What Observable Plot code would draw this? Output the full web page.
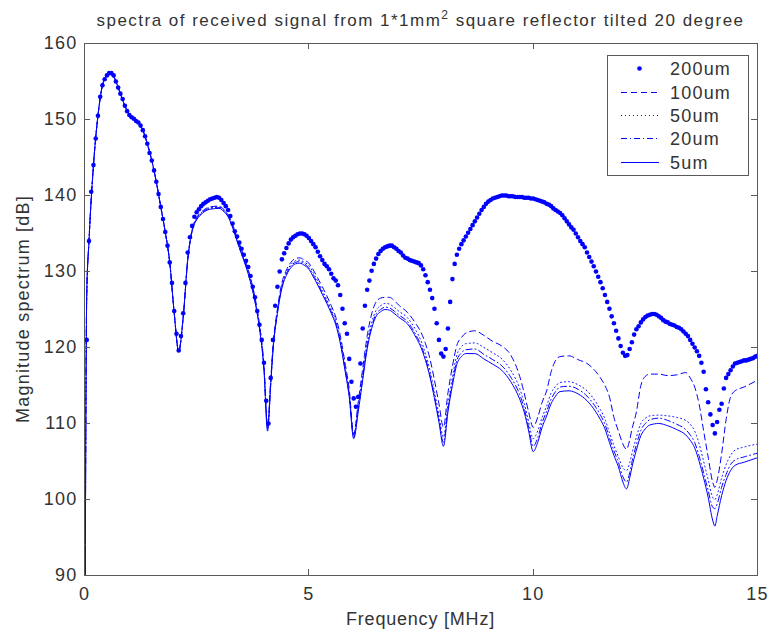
<!DOCTYPE html>
<html><head><meta charset="utf-8">
<script src="https://cdn.jsdelivr.net/npm/d3@7"></script>
<script src="https://cdn.jsdelivr.net/npm/@observablehq/plot@0.6"></script>
<style>html,body{margin:0;padding:0;background:#fff;}</style>
</head><body><div id="chart"></div>
<script>
// ---------- data ----------
const titleText = ["spectra of received signal from 1*1mm", "2", " square reflector tilted 20 degree"];
const xLabel = "Frequency [MHz]";
const yLabel = "Magnitude spectrum [dB]";
const seriesNames = ["200um", "100um", "50um", "20um", "5um"];
const xTicks = [0, 5, 10, 15];
const yTicks = [90, 100, 110, 120, 130, 140, 150, 160];

// 200um: sampled every 0.05 MHz from 0 to 15 MHz
const step200 = 0.05;
const mag200 = [
  85,121,134,140.5,144,147.5,150.5,153,154.5,155.3,155.8,156.1,156.1,155.8,155,154.2,153.4,152.7,151.8,151.1,
  150.6,150.3,150.1,149.8,149.6,149.2,148.6,147.8,146.8,145.6,144.6,143.3,141.8,140.2,138.5,136.9,135.2,133.4,131.2,128.5,
  124.8,121.8,119.6,121.5,124.5,128.5,132.5,134.5,136,137.2,137.8,138.2,138.6,138.9,139.1,139.3,139.5,139.6,139.7,139.8,
  139.7,139.4,139,138.6,138.1,137.3,136.3,135.3,134.6,133.8,133,132.2,131.4,130.6,129.4,128,126.6,124.8,123,121,
  118,113,110,116,121,125.5,128,130,131.6,132.4,133.1,133.7,134.2,134.5,134.7,134.9,135.0,135.0,134.9,134.7,
  134.4,134,133.6,133.2,132.6,132,131.5,131,130.7,130.3,129.7,129.1,128.8,128.2,126.9,125.1,123.2,121.8,118.5,115.5,
  113.3,112.2,113.5,117.9,122.5,125.5,127.6,128.8,130.1,131.0,131.7,132.3,132.7,133.0,133.2,133.3,133.4,133.4,133.2,133.0,
  132.7,132.5,132.1,131.8,131.7,131.5,131.4,131.3,131.2,131.1,130.8,130.3,129.5,128.6,127.6,126.5,125.1,123.2,121,119.2,
  118.8,119.8,122.5,126,129,131,132.2,133,133.6,134.1,134.6,135.1,135.6,136.1,136.6,137.1,137.6,138.1,138.5,138.9,
  139.2,139.4,139.6,139.7,139.8,139.9,140.0,140.0,140.0,139.9,139.9,139.9,139.8,139.8,139.8,139.8,139.7,139.7,139.7,139.6,
  139.6,139.5,139.4,139.3,139.2,139.1,138.9,138.8,138.6,138.3,138.1,137.9,137.7,137.4,137.0,136.6,136.2,135.8,135.5,135.0,
  134.5,134.0,133.6,133.2,132.5,131.9,131.3,130.7,130.0,129.3,128.6,127.8,126.9,126.0,125.1,124.1,123.2,122.2,121.2,120.2,
  119.3,118.9,119.0,119.8,120.7,121.7,122.4,122.8,123.3,123.7,124.0,124.2,124.3,124.4,124.4,124.3,124.1,123.9,123.6,123.4,
  123.3,123.1,123.0,122.9,122.7,122.6,122.4,122.1,121.8,121.5,121.0,120.5,120.0,119.5,118.9,118.0,116.8,114.5,112.8,111.2,
  109.8,108.7,110.2,111.8,112.6,114.6,116.0,116.5,117.0,117.5,117.9,118.0,118.1,118.2,118.3,118.3,118.4,118.5,118.6,118.8,
  118.9
];

// line series share these frequencies (MHz)
const freqLine = [
  0,0.05,0.1,0.2,0.3,0.4,0.5,0.6,0.7,0.8,
  0.9,1.0,1.1,1.2,1.3,1.4,1.5,1.6,1.7,1.8,
  1.9,2.0,2.1,2.2,2.3,2.4,2.5,2.6,2.8,3.0,
  3.1,3.2,3.3,3.4,3.5,3.6,3.7,3.8,3.9,4.0,
  4.08,4.15,4.2,4.3,4.4,4.5,4.6,4.7,4.8,4.9,
  5.0,5.1,5.2,5.3,5.4,5.5,5.6,5.7,5.8,5.9,
  6.0,6.1,6.2,6.3,6.4,6.5,6.6,6.7,6.8,6.9,
  7.0,7.2,7.4,7.5,7.6,7.7,7.8,7.9,8.0,8.1,
  8.2,8.3,8.4,8.5,8.7,8.9,9.1,9.3,9.5,9.7,
  9.8,9.9,10.0,10.1,10.2,10.3,10.4,10.5,10.6,10.8,
  11.0,11.2,11.4,11.5,11.6,11.7,11.8,11.9,12.0,12.08,
  12.15,12.2,12.3,12.4,12.5,12.6,12.8,13.0,13.2,13.4,
  13.5,13.6,13.7,13.8,13.9,14.0,14.05,14.1,14.2,14.3,
  14.4,14.5,14.7,15.0
];

const mag100 = [
  60,127,134,144,150.5,154.5,155.8,156.1,155,153.4,
  151.8,150.6,150.1,149.6,148.6,146.8,144.6,141.8,138.5,135.2,
  131.2,124.5,119.5,124,131.5,135.6,137.1,137.8,138.5,138.6,
  138.2,137.5,136.2,134.5,132.9,131.2,129.2,126.6,123.1,117.7,
  109.8,115.7,120.1,125.1,128.5,130.2,131.2,131.7,131.8,131.5,
  131.1,130.2,129.1,128.0,126.8,125.5,124.0,121.6,118.2,114.5,
  108.6,112.8,117.2,121.5,124.4,126,126.5,126.6,126.6,126.2,
  125.6,124.6,123.0,122.0,120.5,118.5,115.7,112.6,109.5,114,
  117.5,120.3,121.3,121.9,122.2,121.6,120.8,120.2,119.0,116.2,
  114.0,111.5,109.5,110.8,112.8,114.3,116.8,118.3,118.8,118.9,
  118.4,117.9,116.8,116.0,115.0,113.5,110.8,109.0,107.3,106.6,
  107.8,109.2,111.5,115.0,116.2,116.5,116.5,116.3,116.4,116.7,
  116.0,114.8,112.5,109.0,105.6,102.3,101.6,102.5,106.0,110.5,
  113.5,114.3,114.8,115.7
];

const mag50 = [
  60,127,134,144,150.5,154.5,155.8,156.1,155,153.4,
  151.8,150.6,150.1,149.6,148.6,146.8,144.6,141.8,138.5,135.2,
  131.2,124.5,119.5,124,131.5,135.5,137,137.7,138.4,138.5,
  138.1,137.4,136,134.3,132.6,130.9,128.9,126.3,122.8,117.4,
  109.5,115.4,119.8,124.8,128.2,129.9,130.9,131.4,131.5,131.2,
  130.8,129.8,128.7,127.5,126.3,125,123.5,121.1,117.7,114,
  108.4,112.2,116.4,120.6,123.3,124.9,125.5,125.8,125.7,125.3,
  124.8,123.9,122.1,120.9,119.2,117,114.2,111.1,108.2,112.5,
  116.1,119.0,120.1,120.5,120.6,120.0,119.3,118.5,117.0,114.6,
  112.7,110.2,108.0,109.0,110.8,112.3,114.0,114.9,115.4,115.5,
  115.1,114.3,112.8,111.8,110.6,108.8,107.1,105.6,104.2,103.8,
  104.8,106.0,108.2,110.0,110.7,111.0,111.1,111.0,110.8,110.4,
  109.9,109.0,107.3,105.0,102.6,100.3,100.0,100.6,102.8,104.6,
  105.8,106.5,106.9,107.3
];

const mag20 = [
  60,127,134,144,150.5,154.5,155.8,156.1,155,153.4,
  151.8,150.6,150.1,149.6,148.6,146.8,144.6,141.8,138.5,135.2,
  131.2,124.5,119.5,124,131.5,135.4,136.9,137.6,138.3,138.4,
  138.0,137.3,135.9,134.1,132.4,130.7,128.7,126.1,122.6,117.2,
  109.3,115.2,119.6,124.6,128,129.7,130.7,131.2,131.3,131.0,
  130.5,129.5,128.4,127.2,126,124.7,123.2,120.8,117.4,113.7,
  108.2,111.8,116,120.1,122.8,124.4,125.0,125.3,125.2,124.8,
  124.3,123.4,121.5,120.3,118.6,116.4,113.6,110.5,107.5,111.9,
  115.4,118.3,119.3,119.7,119.8,119.1,118.4,117.6,116.1,113.8,
  112.0,109.5,107.0,108.1,110.1,111.6,113.2,114.2,114.8,114.9,
  114.5,113.6,112.1,111.1,109.9,108.1,106.4,104.9,103.0,102.3,
  103.5,104.9,107.2,109.1,110.0,110.5,110.7,110.4,109.9,109.2,
  108.5,107.5,105.7,103.5,101.2,99.0,98.8,99.4,101.6,103.3,
  104.6,105.2,105.6,106.1
];

const mag5 = [
  60,127,134,144,150.5,154.5,155.8,156.1,155,153.4,
  151.8,150.6,150.1,149.6,148.6,146.8,144.6,141.8,138.5,135.2,
  131.2,124.5,119.5,124,131.5,135.3,136.8,137.5,138.2,138.3,
  137.9,137.2,135.8,134.0,132.3,130.6,128.6,126,122.5,117,
  109,115,119.5,124.5,127.8,129.5,130.5,131,131.1,130.8,
  130.3,129.3,128.2,127.0,125.8,124.5,123,120.6,117.2,113.5,
  108,111.5,115.7,119.8,122.5,124.1,124.7,125,124.9,124.5,
  124.0,123.1,121.2,120.0,118.3,116.1,113.3,110.2,107,111.5,
  115,117.8,118.8,119.2,119.2,118.5,117.8,117.0,115.5,113.2,
  111.5,109,106.3,107.5,109.5,111.0,112.6,113.6,114.2,114.3,
  113.9,113.0,111.5,110.5,109.3,107.5,105.8,104.3,102.3,101.4,
  102.8,104.2,106.5,108.4,109.3,109.8,110.0,109.7,109.2,108.5,
  107.8,106.8,105.0,102.8,100.3,97.3,96.5,97.8,100.5,102.5,
  103.8,104.5,104.9,105.5
];

// ---------- build tables ----------
const blue = "#0000ff";
const ink = "#333333";
const axisColor = "#5a5a5a";
const font = "'Liberation Sans', Arial, Helvetica, sans-serif";
const fs = 18;

const d200 = mag200.map((v, i) => ({f: i * step200, v}));
const toRows = arr => arr.map((v, i) => ({f: freqLine[i], v}));
const lineStyles = {
  "100um": {data: toRows(mag100), dash: "6,4"},
  "50um": {data: toRows(mag50), dash: "1,3"},
  "20um": {data: toRows(mag20), dash: "6,3,1,3"},
  "5um": {data: toRows(mag5), dash: null}
};

const lineMark = name => Plot.line(lineStyles[name].data, {
  x: "f", y: "v", stroke: blue, strokeWidth: 1,
  strokeDasharray: lineStyles[name].dash || undefined,
  curve: "monotone-x", clip: true
});

const svg = Plot.plot({
  width: 769, height: 634,
  marginLeft: 84, marginRight: 12, marginTop: 43, marginBottom: 59,
  style: {fontFamily: font, fontSize: fs + "px", color: ink, background: "#fff"},
  x: {domain: [0, 15]},
  y: {domain: [90, 160]},
  marks: [
    Plot.dot(d200, {x: "f", y: "v", r: 2.3, fill: blue, clip: true}),
    lineMark("100um"),
    lineMark("50um"),
    lineMark("20um"),
    lineMark("5um"),
    Plot.frame({stroke: axisColor}),
    Plot.axisX({ticks: xTicks, tickSize: 0, tickPadding: 12, label: null, fontSize: fs, fill: ink}),
    Plot.axisY({ticks: yTicks, tickSize: 0, tickPadding: 7, label: null, fontSize: fs, fill: ink})
  ]
});
document.getElementById("chart").appendChild(svg);

const x = svg.scale("x"), y = svg.scale("y");
const s = d3.select(svg);
s.selectAll("text").attr("letter-spacing", 1.2);

// inward ticks on all four sides (MATLAB box)
const xL = x.apply(0), xR = x.apply(15), yB = y.apply(90), yT = y.apply(160);
const tg = s.append("g").attr("stroke", axisColor).attr("stroke-width", 1);
xTicks.forEach(t => {
  const px = Math.round(x.apply(t)) + 0.5;
  tg.append("line").attr("x1", px).attr("x2", px).attr("y1", yB).attr("y2", yB - 6);
  tg.append("line").attr("x1", px).attr("x2", px).attr("y1", yT).attr("y2", yT + 6);
});
yTicks.forEach(t => {
  const py = Math.round(y.apply(t)) + 0.5;
  tg.append("line").attr("x1", xL).attr("x2", xL + 6).attr("y1", py).attr("y2", py);
  tg.append("line").attr("x1", xR).attr("x2", xR - 6).attr("y1", py).attr("y2", py);
});

function fit(sel, target) {
  sel.attr("letter-spacing", 0);
  const len = sel.node().getComputedTextLength();
  const n = sel.text().length;
  sel.attr("letter-spacing", (target - len) / n);
}

// title
const cx = (xL + xR) / 2;
const title = s.append("text").attr("x", cx).attr("y", 26).attr("text-anchor", "middle")
  .attr("font-family", font).attr("font-size", 17).attr("fill", ink);
title.append("tspan").text(titleText[0]);
title.append("tspan").attr("dy", -7).attr("font-size", 12).text(titleText[1]);
title.append("tspan").attr("dy", 7).text(titleText[2]);
fit(title, 648);

// axis labels
const xl = s.append("text").attr("x", cx).attr("y", 625).attr("text-anchor", "middle")
  .attr("font-family", font).attr("font-size", fs).attr("fill", ink).text(xLabel);
fit(xl, 149);
const yl = s.append("text").attr("transform", `translate(29,${(yB + yT) / 2}) rotate(-90)`)
  .attr("text-anchor", "middle").attr("font-family", font).attr("font-size", fs).attr("fill", ink).text(yLabel);
fit(yl, 228);

// legend
const lg = s.append("g");
lg.append("rect").attr("x", 607.5).attr("y", 55.5).attr("width", 141).attr("height", 120)
  .attr("fill", "#fff").attr("stroke", axisColor);
seriesNames.forEach((name, i) => {
  const ly = Math.round(68.3 + i * 23.3) + 0.5;
  if (name === "200um") {
    lg.append("circle").attr("cx", 639.5).attr("cy", ly).attr("r", 2.3).style("fill", blue);
  } else {
    lg.append("line").attr("x1", 621).attr("x2", 659).attr("y1", ly).attr("y2", ly)
      .style("stroke", blue).attr("stroke-width", 1)
      .attr("stroke-dasharray", lineStyles[name].dash || null);
  }
  lg.append("text").attr("x", 670).attr("y", ly + 6.5).attr("text-anchor", "start")
    .attr("font-family", font).attr("font-size", fs).attr("fill", ink)
    .attr("letter-spacing", 1.2).text(name);
});
</script>
</body></html>
